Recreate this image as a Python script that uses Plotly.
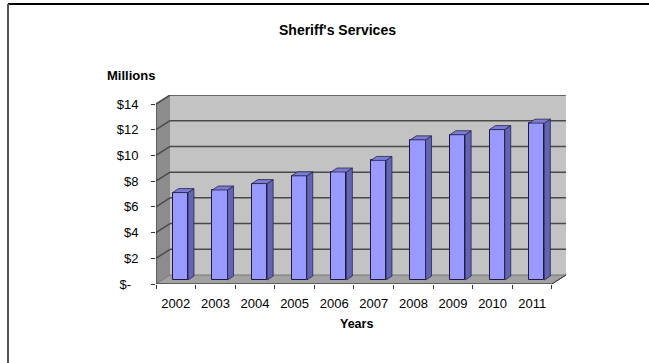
import plotly.graph_objects as go

# ---- data -------------------------------------------------------------
years = ["2002", "2003", "2004", "2005", "2006", "2007", "2008", "2009", "2010", "2011"]
spending_millions = [6.8, 7.0, 7.5, 8.1, 8.4, 9.3, 10.9, 11.3, 11.7, 12.2]
y_tick_values = [0, 2, 4, 6, 8, 10, 12, 14]
y_tick_labels = ["$-\u00a0\u00a0", "$2", "$4", "$6", "$8", "$10", "$12", "$14"]

# ---- pseudo-3D geometry (axis units) ---------------------------------
W, H = 649, 363
ML, MR, MT, MB = 156, 83, 95, 79
FRONT_Y = -0.311          # value-zero of the front plane (floor front edge)
DX, DY = 0.354, 0.70      # front -> back wall shift
X_LEFT, X_RIGHT = -0.5, 9.5
Y_TOP = 14 + FRONT_Y + DY
BAR_X0, BAR_W = -0.078, 0.386   # front face of each column relative to its slot
BAR_DX, BAR_DY = 0.15, 0.31     # column depth

n = len(years)
xs = list(range(n))

fig = go.Figure()

# front faces of the columns
fig.add_trace(go.Bar(
    x=[i + BAR_X0 + BAR_W / 2 for i in xs], y=spending_millions, width=BAR_W,
    marker=dict(color="#9999FF", line=dict(color="#1a1a40", width=1)),
    hoverinfo="skip", showlegend=False,
))

# side and top faces of the columns
side_x, side_y, top_x, top_y = [], [], [], []
for i, v in zip(xs, spending_millions):
    x0 = i + BAR_X0
    x1 = x0 + BAR_W
    side_x += [x1, x1 + BAR_DX, x1 + BAR_DX, x1, x1, None]
    side_y += [0, BAR_DY, v + BAR_DY, v, 0, None]
    top_x += [x0, x1, x1 + BAR_DX, x0 + BAR_DX, x0, None]
    top_y += [v, v, v + BAR_DY, v + BAR_DY, v, None]
fig.add_trace(go.Scatter(x=side_x, y=side_y, mode="lines", fill="toself",
                         fillcolor="#6464B4", line=dict(color="#26264d", width=0.8),
                         hoverinfo="skip", showlegend=False))
fig.add_trace(go.Scatter(x=top_x, y=top_y, mode="lines", fill="toself",
                         fillcolor="#7C7CD2", line=dict(color="#26264d", width=0.8),
                         hoverinfo="skip", showlegend=False))

shapes = []
# back wall
shapes.append(dict(type="rect", xref="x", yref="y", layer="below",
                   x0=X_LEFT + DX, x1=X_RIGHT + DX, y0=FRONT_Y + DY, y1=Y_TOP,
                   fillcolor="#C3C3C3", line=dict(width=0)))
# left side wall
shapes.append(dict(type="path", xref="x", yref="y", layer="below",
                   path=f"M {X_LEFT},{FRONT_Y} L {X_LEFT+DX},{FRONT_Y+DY} "
                        f"L {X_LEFT+DX},{Y_TOP} L {X_LEFT},{14+FRONT_Y} Z",
                   fillcolor="#8C8C8C", line=dict(width=0)))
# floor
shapes.append(dict(type="path", xref="x", yref="y", layer="below",
                   path=f"M {X_LEFT},{FRONT_Y} L {X_RIGHT},{FRONT_Y} "
                        f"L {X_RIGHT+DX},{FRONT_Y+DY} L {X_LEFT+DX},{FRONT_Y+DY} Z",
                   fillcolor="#A2A2A2", line=dict(color="#777777", width=1)))
# gridlines on back and side walls
for v in y_tick_values[1:]:
    shapes.append(dict(type="line", xref="x", yref="y", layer="below",
                       x0=X_LEFT + DX, x1=X_RIGHT + DX,
                       y0=v + FRONT_Y + DY, y1=v + FRONT_Y + DY,
                       line=dict(color="#4a4a4a", width=1.5)))
    shapes.append(dict(type="line", xref="x", yref="y", layer="below",
                       x0=X_LEFT, x1=X_LEFT + DX,
                       y0=v + FRONT_Y, y1=v + FRONT_Y + DY,
                       line=dict(color="#4a4a4a", width=1.5)))
# front axis lines
shapes.append(dict(type="line", xref="x", yref="y", x0=X_LEFT, x1=X_RIGHT,
                   y0=FRONT_Y, y1=FRONT_Y, line=dict(color="#333333", width=1)))
shapes.append(dict(type="line", xref="x", yref="y", x0=X_LEFT, x1=X_LEFT,
                   y0=FRONT_Y, y1=14 + FRONT_Y, line=dict(color="#333333", width=1)))
shapes.append(dict(type="line", xref="x", yref="y", x0=X_RIGHT, x1=X_RIGHT + DX,
                   y0=FRONT_Y, y1=FRONT_Y + DY, line=dict(color="#333333", width=1)))

# outer frame (top and left edges)
pw, ph = W - ML - MR, H - MT - MB
def px(xp): return (xp - ML) / pw
def py(yp): return (H - MB - yp) / ph
shapes.append(dict(type="line", xref="paper", yref="paper",
                   x0=px(8), x1=px(649), y0=py(4), y1=py(4),
                   line=dict(color="#000000", width=2)))
shapes.append(dict(type="line", xref="paper", yref="paper",
                   x0=px(8), x1=px(8), y0=py(4), y1=py(363),
                   line=dict(color="#555555", width=2)))

font_family = "Liberation Sans, Arial, sans-serif"
def label(text, xp, yp, size):
    return dict(text=text, x=px(xp), y=py(yp), xref="paper", yref="paper",
                xanchor="center", yanchor="middle", showarrow=False,
                font=dict(size=size, color="black", family=font_family))

annotations = [
    label("<b>Sheriff's Services</b>", 337, 30, 14),
    label("<b>Millions</b>", 131, 75.5, 13),
    label("<b>Years</b>", 356, 324, 12.5),
]

fig.update_layout(
    width=W, height=H,
    margin=dict(l=ML, r=MR, t=MT, b=MB, pad=0, autoexpand=False),
    paper_bgcolor="white", plot_bgcolor="rgba(0,0,0,0)",
    font=dict(family=font_family, size=13, color="black"),
    shapes=shapes, annotations=annotations, bargap=0,
    xaxis=dict(range=[X_LEFT, X_RIGHT + DX], tickvals=xs, ticktext=years,
               showgrid=False, zeroline=False, showline=False, ticks="",
               ticklabelstandoff=10, automargin=False,
               minor=dict(tickvals=[i - 0.5 for i in range(n + 1)], ticks="outside",
                          ticklen=4, tickcolor="#333333", showgrid=False),
               fixedrange=True),
    yaxis=dict(range=[FRONT_Y, Y_TOP], tickvals=[v + FRONT_Y for v in y_tick_values],
               ticktext=y_tick_labels, showgrid=False, zeroline=False, showline=False,
               ticks="outside", ticklen=4, tickcolor="#333333", ticklabelstandoff=10,
               automargin=False, fixedrange=True),
)

fig.write_html("out.html")
